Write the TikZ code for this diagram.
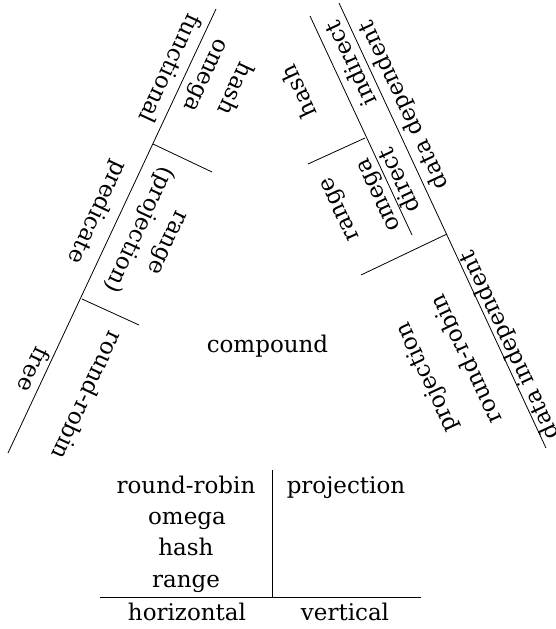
\documentclass[tikz,border=0pt]{standalone}
\usepackage{fontspec}
\setmainfont{DejaVu Serif}
\begin{document}
\begin{tikzpicture}[x=1pt,y=-1pt,
  lbl/.style={font=\fontsize{23}{31}\selectfont, inner sep=0pt, align=center},
  lside/.style={lbl, rotate=-115},
  rside/.style={lbl, rotate=115},
  rule/.style={line width=0.8pt}]
\useasboundingbox (0,0) rectangle (555,629);

% left edge of the triangle and its two ticks
\coordinate (LT) at (216,9);
\coordinate (LB) at (8,453);
\coordinate (La1) at (153,144);
\coordinate (La2) at (212,172);
\coordinate (Lb1) at (82,299);
\coordinate (Lb2) at (139,325);
\draw[rule] (LT) -- (LB);
\draw[rule] (La1) -- (La2);
\draw[rule] (Lb1) -- (Lb2);

% right edge: outer line, inner line and ticks
\coordinate (RT) at (339,3);
\coordinate (RB) at (546,448);
\coordinate (IT) at (310,16);
\coordinate (IB) at (412,235);
\coordinate (Ia1) at (365,138);
\coordinate (Ia2) at (308,164);
\coordinate (Ra1) at (447,234);
\coordinate (Ra2) at (361,275);
\draw[rule] (RT) -- (RB);
\draw[rule] (IT) -- (IB);
\draw[rule] (Ia1) -- (Ia2);
\draw[rule] (Ra1) -- (Ra2);

% labels along the left edge
\node[lside] (functional) at (171,69) {functional};
\node[lside] (lhash) at (220,82) {hash\\omega};
\node[lside] (predicate) at (97,212) {predicate};
\node[lside] (lrange) at (151,235) {range\\(projection)};
\node[lside] (free) at (34,370) {free};
\node[lside] (lrr) at (88,396) {round-robin};

% labels along the right edge
\node[rside] (datadep) at (404,105) {data dependent};
\node[rside] (indirect) at (350,64) {indirect};
\node[rside] (rhash) at (298,92) {hash};
\node[rside] (direct) at (398,181) {direct};
\node[rside] (rrange) at (341.5,208.5) {range};
\node[rside] (romega) at (380.5,194) {omega};
\node[rside] (rproj) at (427.5,377.5) {projection};
\node[rside] (rrr) at (465,360) {round-robin};
\node[rside] (dataindep) at (510,345) {data independent};

% centre
\node[lbl, anchor=base] (compound) at (267.5,352) {compound};

% bottom table
\coordinate (Vt) at (272,470);
\coordinate (Vb) at (272,598);
\coordinate (Hl) at (100,597);
\coordinate (Hr) at (421,597);
\draw[rule] (Vt) -- (Vb);
\draw[rule] (Hl) -- (Hr);
\node[lbl, anchor=base] (trr) at (186,493) {round-robin};
\node[lbl, anchor=base] (tomega) at (187,524) {omega};
\node[lbl, anchor=base] (thash) at (186,555) {hash};
\node[lbl, anchor=base] (trange) at (186,587) {range};
\node[lbl, anchor=base] (tproj) at (346,493) {projection};
\node[lbl, anchor=base] (thoriz) at (187,620) {horizontal};
\node[lbl, anchor=base] (tvert) at (345,620) {vertical};
\end{tikzpicture}
\end{document}
